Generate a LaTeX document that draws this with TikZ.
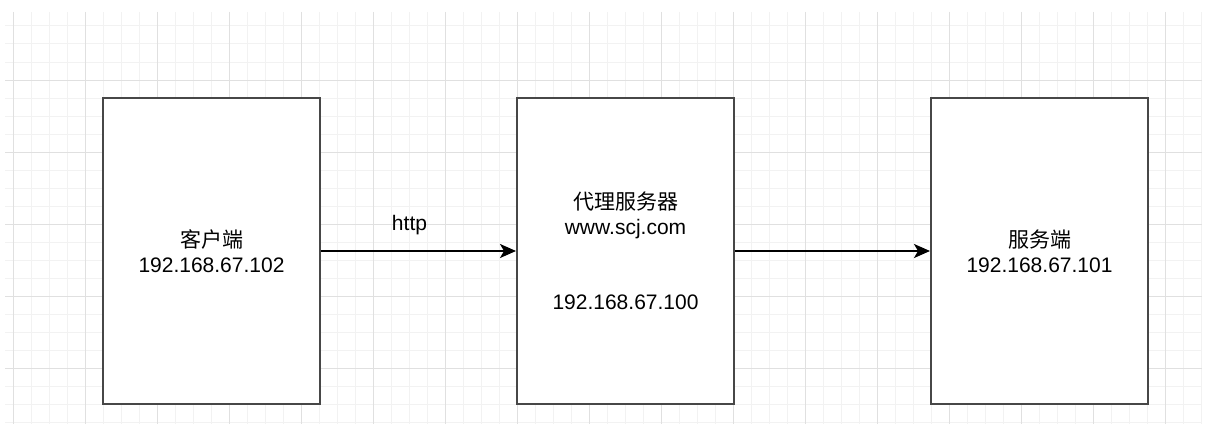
\documentclass[tikz,border=0pt]{standalone}
\usepackage{fontspec}
\setmainfont{Liberation Sans}
\newfontfamily\cjk{Noto Sans CJK SC}
\usetikzlibrary{arrows.meta,positioning}
\tikzset{
  hostbox/.style={draw=black!72,line width=2pt,fill=white,
    minimum width=217pt,minimum height=306pt,inner sep=0pt,
    align=center,font=\fontsize{21}{25}\selectfont},
  link/.style={line width=2pt,-{Stealth[length=16pt,width=14pt,inset=4pt]}},
  linklabel/.style={font=\fontsize{21}{25}\selectfont,inner sep=0pt},
  minorline/.style={draw=black!5,line width=1pt},
  majorline/.style={draw=black!12,line width=1pt}
}
\begin{document}
\begin{tikzpicture}[x=1pt,y=-1pt]
  \useasboundingbox (0,0) rectangle (1214,436);
  \foreach \x in {13,31,...,1201} \draw[minorline] (\x,12) -- (\x,424);
  \foreach \y in {26,44,...,422} \draw[minorline] (5,\y) -- (1202,\y);
  \foreach \x in {13,85,...,1165} \draw[majorline] (\x,12) -- (\x,424);
  \foreach \y in {80,152,...,368} \draw[majorline] (5,\y) -- (1202,\y);

  \node[hostbox] (client) at (211.5,251) {{\cjk 客户端}\\192.168.67.102};
  \node[hostbox,right=195pt of client] (proxy)
    {{\cjk 代理服务器}\\www.scj.com\\ \\ \\192.168.67.100};
  \node[hostbox,right=195pt of proxy] (server) {{\cjk 服务端}\\192.168.67.101};

  \draw[link] (client) -- node[linklabel,yshift=26pt,xshift=-9pt] {http} (proxy);
  \draw[link] (proxy) -- (server);
\end{tikzpicture}
\end{document}
